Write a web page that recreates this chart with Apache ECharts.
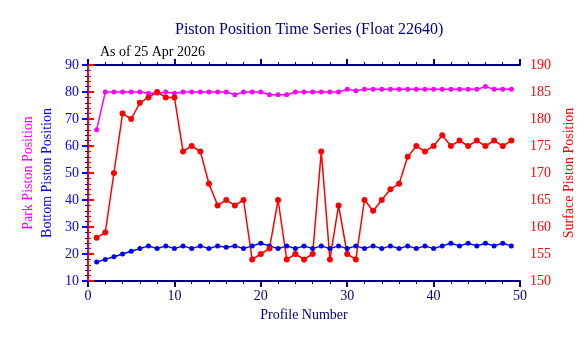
<!DOCTYPE html>
<html>
<head>
<meta charset="utf-8">
<script src="https://cdn.jsdelivr.net/npm/echarts@6/dist/echarts.min.js"></script>
<style>
  html, body { margin: 0; padding: 0; background: #fff; }
  #chart { width: 588px; height: 338px; }
</style>
</head>
<body>
<div id="chart"></div>
<script>
// profile numbers 1..49
var profiles = [];
for (var i = 1; i <= 49; i++) profiles.push(i);

// park piston position (left axis)
var parkPos = [66, 80, 80, 80, 80, 80, 79.5, 79.5, 80, 79.5,
               80, 80, 80, 80, 80, 80, 79, 80, 80, 80,
               79, 79, 79, 80, 80, 80, 80, 80, 80, 81,
               80.5, 81, 81, 81, 81, 81, 81, 81, 81, 81,
               81, 81, 81, 81, 81, 82, 81, 81, 81];

// bottom piston position (left axis)
var bottomPos = [17, 18, 19, 20, 21, 22, 23, 22, 23, 22,
                 23, 22, 23, 22, 23, 22.5, 23, 22, 23, 24,
                 23, 22, 23, 22, 23, 22, 23, 22, 23, 22,
                 23, 22, 23, 22, 23, 22, 23, 22, 23, 22,
                 23, 24, 23, 24, 23, 24, 23, 24, 23];

// surface piston position (right axis)
var surfacePos = [158, 159, 170, 181, 180, 183, 184, 185, 184, 184,
                  174, 175, 174, 168, 164, 165, 164, 165, 154, 155,
                  156, 165, 154, 155, 154, 155, 174, 154, 164, 155,
                  154, 165, 163, 165, 167, 168, 173, 175, 174, 175,
                  177, 175, 176, 175, 176, 175, 176, 175, 176];

var navy = '#000080', blue = '#0000ff', magenta = '#ff00ff', red = '#ff0000';
var serif = 'Liberation Serif';

function pairs(vals) {
    return vals.map(function (v, k) { return [profiles[k], v]; });
}

var myChart = echarts.init(document.getElementById('chart'));

var option = {
    animation: false,
    textStyle: { fontFamily: serif },
    title: [
        {
            text: 'Piston Position Time Series (Float 22640)',
            left: 170, top: 17,
            textStyle: { color: navy, fontSize: 16, fontWeight: 'normal', fontFamily: serif }
        },
        {
            text: 'As of 25 Apr 2026',
            left: 95, top: 40,
            textStyle: { color: '#000', fontSize: 14, fontWeight: 'normal', fontFamily: serif }
        }
    ],
    grid: { left: 88, right: 68, top: 65, bottom: 57 },
    xAxis: [
        {
            type: 'value', min: 0, max: 50, interval: 10,
            name: 'Profile Number', nameLocation: 'middle', nameGap: 27,
            nameTextStyle: { color: navy, fontSize: 14, fontFamily: serif },
            axisLine: { lineStyle: { color: navy, width: 2 } },
            axisTick: { length: 6, lineStyle: { color: navy, width: 2 } },
            minorTick: { show: true, splitNumber: 5, length: 3, lineStyle: { color: navy } },
            axisLabel: { color: navy, fontSize: 14, fontFamily: serif, margin: 8 },
            splitLine: { show: false }
        },
        {
            type: 'value', min: 0, max: 50, interval: 10, position: 'top',
            axisLine: { lineStyle: { color: navy, width: 2 } },
            axisTick: { length: 6, lineStyle: { color: navy, width: 2 } },
            minorTick: { show: true, splitNumber: 5, length: 3, lineStyle: { color: navy } },
            axisLabel: { show: false },
            splitLine: { show: false }
        }
    ],
    yAxis: [
        {
            type: 'value', min: 10, max: 90, interval: 10, position: 'left',
            name: 'Bottom Piston Position', nameLocation: 'middle', nameGap: 26,
            nameTextStyle: { color: blue, fontSize: 14, fontFamily: serif },
            axisLine: { show: true, lineStyle: { color: blue, width: 2 } },
            axisTick: { show: true, length: 6, lineStyle: { color: blue, width: 2 } },
            minorTick: { show: true, splitNumber: 5, length: 3, lineStyle: { color: blue } },
            axisLabel: { color: blue, fontSize: 14, fontFamily: serif, margin: 9 },
            splitLine: { show: false }
        },
        {
            type: 'value', min: 150, max: 190, interval: 5, position: 'right',
            name: 'Surface Piston Position', nameLocation: 'middle', nameGap: 34,
            nameRotate: 90,
            nameTextStyle: { color: red, fontSize: 14, fontFamily: serif },
            axisLine: { show: true, lineStyle: { color: red, width: 2 } },
            axisTick: { show: true, length: 6, lineStyle: { color: red, width: 2 } },
            minorTick: { show: true, splitNumber: 5, length: 3, lineStyle: { color: red } },
            axisLabel: { color: red, fontSize: 14, fontFamily: serif, margin: 10 },
            splitLine: { show: false }
        },
        {
            type: 'value', min: 10, max: 90, interval: 10, position: 'left',
            name: 'Park Piston Position', nameLocation: 'middle', nameGap: 53,
            nameTextStyle: { color: magenta, fontSize: 14, fontFamily: serif },
            axisLine: { show: false },
            axisTick: { show: false },
            axisLabel: { show: false },
            splitLine: { show: false }
        }
    ],
    series: [
        {
            name: 'Park', type: 'line', yAxisIndex: 0,
            data: pairs(parkPos),
            symbol: 'circle', symbolSize: 5,
            lineStyle: { color: magenta, width: 1.5 },
            itemStyle: { color: magenta }
        },
        {
            name: 'Bottom', type: 'line', yAxisIndex: 0,
            data: pairs(bottomPos),
            symbol: 'circle', symbolSize: 5,
            lineStyle: { color: blue, width: 1.5 },
            itemStyle: { color: blue }
        },
        {
            name: 'Surface', type: 'line', yAxisIndex: 1,
            data: pairs(surfacePos),
            symbol: 'circle', symbolSize: 6,
            lineStyle: { color: red, width: 1.5 },
            itemStyle: { color: red }
        }
    ]
};
myChart.setOption(option);
</script>
</body>
</html>
